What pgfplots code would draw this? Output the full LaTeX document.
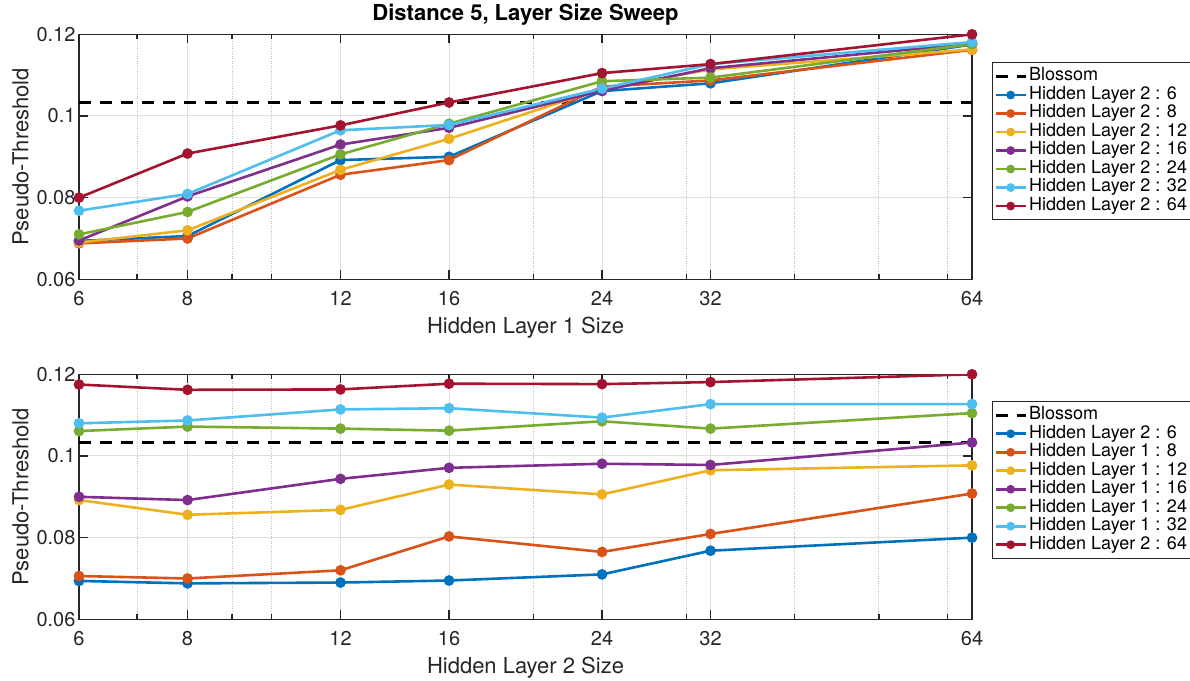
\documentclass[border=0pt]{standalone}
\usepackage{pgfplots}
\usepackage{pgfplotstable}
\pgfplotsset{compat=1.18}
\usepackage{fontspec}
\setmainfont{TeX Gyre Heros}

\definecolor{c1}{RGB}{0,114,189}
\definecolor{c2}{RGB}{217,83,25}
\definecolor{c3}{RGB}{237,177,32}
\definecolor{c4}{RGB}{126,47,142}
\definecolor{c5}{RGB}{119,172,48}
\definecolor{c6}{RGB}{77,190,238}
\definecolor{c7}{RGB}{162,20,47}
\definecolor{axgray}{RGB}{38,38,38}
\definecolor{gridgray}{RGB}{223,223,223}
\definecolor{minorgray}{RGB}{190,190,190}

% rows: Hidden Layer 1 size; columns: Hidden Layer 2 size
\pgfplotstableread{
x    h6     h8     h12    h16    h24    h32    h64
6    0.0694 0.0688 0.0690 0.0695 0.0710 0.0768 0.0800
8    0.0706 0.0700 0.0720 0.0803 0.0765 0.0809 0.0908
12   0.0892 0.0856 0.0868 0.0930 0.0906 0.0965 0.0977
16   0.0900 0.0892 0.0944 0.0971 0.0981 0.0978 0.1033
24   0.1061 0.1072 0.1067 0.1062 0.1085 0.1067 0.1105
32   0.1080 0.1087 0.1114 0.1117 0.1094 0.1127 0.1127
64   0.1175 0.1162 0.1163 0.1177 0.1176 0.1181 0.1200
}\topdata

% rows: Hidden Layer 2 size; columns: Hidden Layer 1 size
\pgfplotstableread{
x    g6     g8     g12    g16    g24    g32    g64
6    0.0694 0.0706 0.0892 0.0900 0.1061 0.1080 0.1175
8    0.0688 0.0700 0.0856 0.0892 0.1072 0.1087 0.1162
12   0.0690 0.0720 0.0868 0.0944 0.1067 0.1114 0.1163
16   0.0695 0.0803 0.0930 0.0971 0.1062 0.1117 0.1177
24   0.0710 0.0765 0.0906 0.0981 0.1085 0.1094 0.1176
32   0.0768 0.0809 0.0965 0.0978 0.1067 0.1127 0.1181
64   0.0800 0.0908 0.0977 0.1033 0.1105 0.1127 0.1200
}\botdata

\pgfplotstableread{
x   y
6   0.1033
64  0.1033
}\blossom

\pgfplotsset{
  mystyle/.style={
    scale only axis, width=893pt, height=245pt,
    xmin=6, xmax=64, ymin=0.06, ymax=0.12,
    xtick={6,8,12,16,24,32,64}, xticklabels={6,8,12,16,24,32,64},
    minor xtick={7,9,10,20,30,40,50,60},
    ytick={0.06,0.08,0.1,0.12}, yticklabels={0.06,0.08,0.1,0.12},
    minor y tick num=0,
    grid=major, xminorgrids=true,
    major grid style={gridgray, line width=1pt},
    minor grid style={minorgray, dash pattern=on 1pt off 1.5pt, line width=0.9pt},
    axis line style={axgray, line width=1.3pt},
    every tick/.style={axgray, line width=1.3pt},
    major tick length=9pt, minor tick length=5pt,
    tick align=inside,
    /pgf/number format/assume math mode=true,
    ticklabel style={font=\fontsize{20}{24}\selectfont, text=axgray},
    xticklabel style={anchor=base, yshift=-26.5pt},
    label style={font=\fontsize{22}{26}\selectfont, text=axgray},
    xlabel style={at={(axis description cs:0.5,-0.2192)}, anchor=base},
    ylabel style={at={(axis description cs:-0.0568,0.5)}, anchor=base},
    legend cell align=left,
    legend style={anchor=north west, draw=axgray, line width=1pt, fill=white,
      font=\fontsize{18}{20}\selectfont, text=black,
      inner xsep=2pt, inner ysep=5pt, row sep=1pt,
      nodes={inner xsep=2pt, inner ysep=0pt, text height=13pt, text depth=4.5pt}},
    legend image code/.code={\draw[mark repeat=2, mark phase=2, ##1, mark size=3pt]
      plot coordinates {(0pt,0pt) (15pt,0pt) (30pt,0pt)};},
    ylabel={Pseudo-Threshold},
  },
  ser/.style={#1, line width=2.6pt, mark=*, mark size=4pt, mark options={solid, fill=#1}},
  bl/.style={black, line width=3pt, dash pattern=on 12pt off 9pt, mark=none},
}

\begin{document}
\begin{tikzpicture}[x=1pt,y=1pt]
\useasboundingbox (0,0) rectangle (1190,-680);
\begin{semilogxaxis}[mystyle, at={(79pt,-279.3pt)}, anchor=south west,
  xlabel={Hidden Layer 1 Size},
  title={Distance 5, Layer Size Sweep},
  title style={at={(axis description cs:0.5,1.031)}, anchor=base,
    font=\bfseries\fontsize{22}{26}\selectfont, text=black},
  legend style={at={(1.022,0.8857)}}]
\addplot[bl] table[x=x,y=y] {\blossom};
\addplot[ser=c1] table[x=x,y=h6] {\topdata};
\addplot[ser=c2] table[x=x,y=h8] {\topdata};
\addplot[ser=c3] table[x=x,y=h12] {\topdata};
\addplot[ser=c4] table[x=x,y=h16] {\topdata};
\addplot[ser=c5] table[x=x,y=h24] {\topdata};
\addplot[ser=c6] table[x=x,y=h32] {\topdata};
\addplot[ser=c7] table[x=x,y=h64] {\topdata};
\legend{Blossom,Hidden Layer 2 : 6,Hidden Layer 2 : 8,Hidden Layer 2 : 12,Hidden Layer 2 : 16,Hidden Layer 2 : 24,Hidden Layer 2 : 32,Hidden Layer 2 : 64}
\end{semilogxaxis}
\begin{semilogxaxis}[mystyle, at={(79pt,-619.3pt)}, anchor=south west,
  xlabel={Hidden Layer 2 Size},
  legend style={at={(1.022,0.891)}}]
\addplot[bl] table[x=x,y=y] {\blossom};
\addplot[ser=c1] table[x=x,y=g6] {\botdata};
\addplot[ser=c2] table[x=x,y=g8] {\botdata};
\addplot[ser=c3] table[x=x,y=g12] {\botdata};
\addplot[ser=c4] table[x=x,y=g16] {\botdata};
\addplot[ser=c5] table[x=x,y=g24] {\botdata};
\addplot[ser=c6] table[x=x,y=g32] {\botdata};
\addplot[ser=c7] table[x=x,y=g64] {\botdata};
\legend{Blossom,Hidden Layer 2 : 6,Hidden Layer 1 : 8,Hidden Layer 1 : 12,Hidden Layer 1 : 16,Hidden Layer 1 : 24,Hidden Layer 1 : 32,Hidden Layer 2 : 64}
\end{semilogxaxis}
\end{tikzpicture}
\end{document}
